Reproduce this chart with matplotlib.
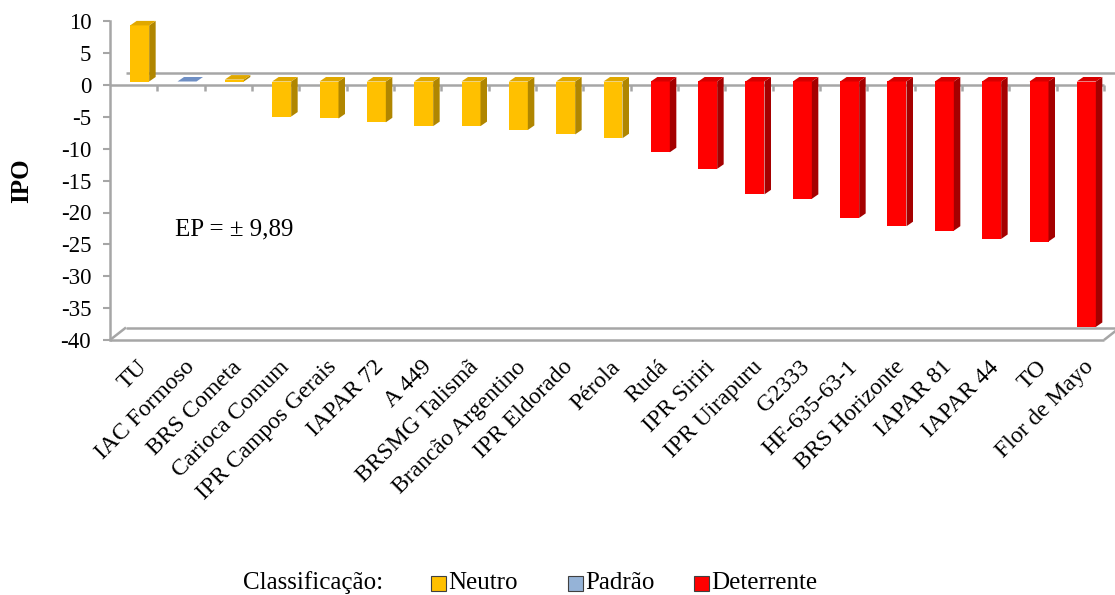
import numpy as np
import matplotlib
matplotlib.use("Agg")
import matplotlib.pyplot as plt
from matplotlib.patches import Polygon, Rectangle
from matplotlib.transforms import ScaledTranslation

plt.rcParams['font.family'] = ['Liberation Serif', 'DejaVu Serif']
plt.rcParams['axes.unicode_minus'] = False

# cultivares e índice de preferência para oviposição (IPO)
cultivares = ["TU", "IAC Formoso", "BRS Cometa", "Carioca Comum", "IPR Campos Gerais",
              "IAPAR 72", "A 449", "BRSMG Talismã", "Brancão Argentino", "IPR Eldorado",
              "Pérola", "Rudá", "IPR Siriri", "IPR Uirapuru", "G2333", "HF-635-63-1",
              "BRS Horizonte", "IAPAR 81", "IAPAR 44", "TO", "Flor de Mayo"]
ipo = [8.8, 0.0, 0.3, -5.5, -5.8, -6.4, -7.0, -7.0, -7.6, -8.3,
       -8.9, -11.1, -13.7, -17.7, -18.4, -21.4, -22.7, -23.4, -24.7, -25.1, -38.5]
classe = ["Neutro", "Padrão", "Neutro", "Neutro", "Neutro", "Neutro", "Neutro", "Neutro",
          "Neutro", "Neutro", "Neutro", "Deterrente", "Deterrente", "Deterrente", "Deterrente",
          "Deterrente", "Deterrente", "Deterrente", "Deterrente", "Deterrente", "Deterrente"]
ep_txt = "EP = ± 9,89"

# cores: frente, lateral, topo
CORES = {"Neutro": ("#FFC000", "#B08600", "#E0A800"),
         "Padrão": ("#95B3D7", "#5F7FAF", "#6F8FC4"),
         "Deterrente": ("#FF0000", "#A50000", "#D80000")}
LEG = {"Neutro": "#FFC000", "Padrão": "#95B3D7", "Deterrente": "#FF0000"}
CINZA = "#A6A6A6"

W, H = 1115, 595
fig = plt.figure(figsize=(W / 100, H / 100), dpi=100)
x0, x1, ytop, ybot = 110, 1104, 21.25, 340
ax = fig.add_axes([x0 / W, (H - ybot) / H, (x1 - x0) / W, (ybot - ytop) / H])
ax.set_xlim(-0.5, 20.5)
ax.set_ylim(-40, 10)

px = 21 / (x1 - x0)          # unidades x por pixel
py = 50 / (ybot - ytop)      # unidades y por pixel

# paredes / plano do zero (pseudo 3D)
dxw, dyw = 16 * px, 12.5 * py
lk = dict(color=CINZA, lw=1.8, clip_on=False, zorder=1, solid_capstyle="butt")
ax.plot([-0.5, 20.5], [0, 0], **lk)
ax.plot([-0.5 + dxw, 20.5 + dxw], [dyw, dyw], **lk)
ax.plot([-0.5, 20.5], [-40, -40], **lk)
ax.plot([-0.5 + dxw, 20.5 + dxw], [-40 + dyw, -40 + dyw], **lk)
ax.plot([-0.5, -0.5 + dxw], [-40, -40 + dyw], **lk)
ax.plot([20.5, 20.5 + dxw], [-40, -40 + dyw], **lk)
for b in np.arange(0.5, 21, 1.0):
    ax.plot([b, b], [0, -6 * py], **lk)

# barras com perspectiva
off_x, off_y = 6 * px, 3.5 * py
hw = 9.5 * px
sdx, sdy = 6.5 * px, 4.5 * py
for i, (v, c) in enumerate(zip(ipo, classe)):
    fr, sd, tp = CORES[c]
    xa, xb = i + off_x - hw, i + off_x + hw
    lo, hi = sorted([off_y, off_y + v])
    if v != 0:
        ax.add_patch(Rectangle((xa, lo), xb - xa, hi - lo, fc=fr, ec="none", zorder=3, clip_on=False))
        ax.add_patch(Polygon([(xb, lo), (xb + sdx, lo + sdy), (xb + sdx, hi + sdy), (xb, hi)],
                             fc=sd, ec="none", zorder=3, clip_on=False))
    ax.add_patch(Polygon([(xa, hi), (xb, hi), (xb + sdx, hi + sdy), (xa + sdx, hi + sdy)],
                         fc=tp, ec="none", zorder=4, clip_on=False))

# eixos
for s in ["top", "right", "bottom"]:
    ax.spines[s].set_visible(False)
ax.spines["left"].set_color(CINZA)
ax.spines["left"].set_linewidth(1.8)
ax.set_yticks(np.arange(-40, 11, 5))
ax.tick_params(axis="y", color=CINZA, length=5, width=1.5, labelsize=16.5, pad=8.5)
ax.set_xticks(range(len(cultivares)))
ax.set_xticklabels(cultivares, rotation=45, ha="right", rotation_mode="anchor", fontsize=17)
ax.tick_params(axis="x", length=0, pad=12)
for lab in ax.get_xticklabels():
    lab.set_transform(lab.get_transform() + ScaledTranslation(3 / 100, 0, fig.dpi_scale_trans))
ax.set_ylabel("IPO", fontsize=18, fontweight="bold", labelpad=20)

ax.text(0.87, -22.6, ep_txt, fontsize=18, va="center", ha="left")

# legenda
yl = (H - 583) / H
fig.text(243 / W, yl, "Classificação:", fontsize=18, va="center", ha="left")
for xs, nome in [(431, "Neutro"), (568, "Padrão"), (694, "Deterrente")]:
    fig.patches.append(Rectangle((xs / W, yl - 7.5 / H), 15 / W, 15 / H, fc=LEG[nome], ec="#404040",
                                 lw=0.8, transform=fig.transFigure, figure=fig))
    fig.text((xs + 17) / W, yl, nome, fontsize=18, va="center", ha="left")

fig.savefig("out.png", dpi=100)
